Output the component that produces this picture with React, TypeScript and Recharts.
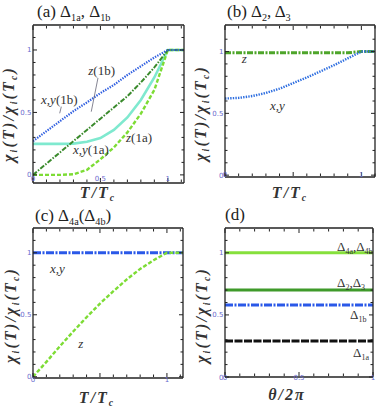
import React from 'react';
import { LineChart, Line, XAxis, YAxis, ReferenceDot, ReferenceLine } from 'recharts';

// (a) Delta_1a, Delta_1b
const tA = [0, 0.1, 0.2, 0.3, 0.4, 0.5, 0.6, 0.7, 0.8, 0.9, 1.0, 1.12];
const xy1b = [0.27, 0.35, 0.43, 0.51, 0.58, 0.655, 0.72, 0.8, 0.87, 0.94, 1, 1];
const z1b = [0, 0.09, 0.18, 0.27, 0.36, 0.45, 0.54, 0.63, 0.74, 0.86, 1, 1];
const xy1a = [0.248, 0.248, 0.248, 0.25, 0.265, 0.295, 0.36, 0.46, 0.6, 0.78, 1, 1];
const z1a = [0, 0, 0, 0.005, 0.04, 0.125, 0.22, 0.34, 0.49, 0.68, 1, 1];

// (b) Delta_2, Delta_3
const tB = [0, 0.1, 0.2, 0.3, 0.4, 0.5, 0.6, 0.7, 0.8, 0.9, 1.0, 1.1];
const xy23 = [0.62, 0.625, 0.64, 0.665, 0.7, 0.745, 0.79, 0.84, 0.89, 0.945, 1, 1];
const z23 = [0.99, 0.99, 0.99, 0.99, 0.99, 0.99, 0.99, 0.99, 0.99, 0.99, 1, 1];

// (c) Delta_4a (Delta_4b)
const tC = [0, 0.1, 0.2, 0.3, 0.4, 0.5, 0.6, 0.7, 0.8, 0.9, 1.0, 1.12];
const xy4 = [1, 1, 1, 1, 1, 1, 1, 1, 1, 1, 1, 1];
const z4 = [0, 0.12, 0.245, 0.365, 0.48, 0.59, 0.69, 0.785, 0.87, 0.94, 1, 1];

// (d) vs theta/2pi
const theta = [0, 0.25, 0.5, 0.75, 1];
const d4 = [1, 1, 1, 1, 1];
const d23 = [0.7, 0.7, 0.7, 0.7, 0.7];
const d1b = [0.58, 0.58, 0.58, 0.58, 0.58];
const d1a = [0.29, 0.29, 0.29, 0.29, 0.29];

const tenths = [0, 0.1, 0.2, 0.3, 0.4, 0.5, 0.6, 0.7, 0.8, 0.9, 1.0, 1.1];

const dataA = tA.map((t, i) => ({ t, xy1b: xy1b[i], z1b: z1b[i], xy1a: xy1a[i], z1a: z1a[i] }));
const dataB = tB.map((t, i) => ({ t, xy: xy23[i], z: z23[i] }));
const dataC = tC.map((t, i) => ({ t, xy: xy4[i], z: z4[i] }));
const dataD = theta.map((t, i) => ({ t, d4: d4[i], d23: d23[i], d1b: d1b[i], d1a: d1a[i] }));

const SERIF = '"Liberation Serif", "Times New Roman", "DejaVu Serif", serif';
const TICK = '#6a6acd';
const FRAME = '#222';

const near = (a: number, b: number) => Math.abs(a - b) < 1e-6;
const fmt = (v: number) => String(+v.toFixed(2));

type Side = 'bottom' | 'left' | 'top' | 'right';

function makeTick(side: Side, labels: number[], dy = 0) {
  return (p: any) => {
    const { x, y, payload } = p;
    const v = payload.value;
    const len = [0, 0.5, 1].some((m) => near(m, v)) ? 4 : 2.5;
    let line = null;
    if (side === 'bottom') line = <line x1={x} y1={y - 1} x2={x} y2={y - 1 - len} stroke={FRAME} />;
    if (side === 'top') line = <line x1={x} y1={y + 1} x2={x} y2={y + 1 + len} stroke={FRAME} />;
    if (side === 'left') line = <line x1={x} y1={y} x2={x + len} y2={y} stroke={FRAME} />;
    if (side === 'right') line = <line x1={x} y1={y} x2={x - len} y2={y} stroke={FRAME} />;
    let text = null;
    if (labels.some((m) => near(m, v))) {
      if (side === 'bottom')
        text = (
          <text x={x} y={y - 1 + dy} textAnchor="middle" fontSize={7} fill={TICK} fontFamily="DejaVu Sans">
            {fmt(v)}
          </text>
        );
      if (side === 'left')
        text = (
          <text x={x - 1.5} y={y + 2.5} textAnchor="end" fontSize={7} fill={TICK} fontFamily="DejaVu Sans">
            {fmt(v)}
          </text>
        );
    }
    return (
      <g>
        {line}
        {text}
      </g>
    );
  };
}

function frame(xDomain: number[], yDomain: number[], xTicks: number[], xLabels: number[], xDy: number) {
  const common = {
    tickLine: false,
    tickSize: 0,
    tickMargin: 0,
    interval: 0 as const,
    allowDataOverflow: true,
    axisLine: { stroke: FRAME, strokeWidth: 1.3 },
  };
  const yTicks = tenths;
  return [
    <XAxis key="xb" {...common} type="number" dataKey="t" domain={xDomain} ticks={xTicks} height={1} tick={makeTick('bottom', xLabels, xDy)} />,
    <XAxis key="xt" {...common} xAxisId="top" orientation="top" type="number" dataKey="t" domain={xDomain} ticks={xTicks} height={1} tick={makeTick('top', [])} />,
    <YAxis key="yl" {...common} type="number" domain={yDomain} ticks={yTicks} width={1} tick={makeTick('left', [0, 0.5, 1])} />,
    <YAxis key="yr" {...common} yAxisId="right" orientation="right" type="number" domain={yDomain} ticks={yTicks} width={1} tick={makeTick('right', [])} />,
  ];
}

const note = (content: React.ReactNode, size = 13) => (p: any) => (
  <text x={p.cx} y={p.cy} fontFamily={SERIF} fontSize={size} fill="#333">
    {content}
  </text>
);
const it = (s: string) => <tspan fontStyle="italic">{s}</tspan>;
const dSub = (s: string) => (
  <tspan dy={3} fontSize={8}>
    {s}
  </tspan>
);

const base: React.CSSProperties = { position: 'absolute', fontFamily: SERIF, color: '#222', lineHeight: 1, whiteSpace: 'nowrap' };
const subS: React.CSSProperties = { fontSize: '0.6em', verticalAlign: '-0.35em' };

const YLabel = ({ cx, cy }: { cx: number; cy: number }) => (
  <div
    style={{
      ...base,
      left: cx,
      top: cy,
      fontSize: 16,
      fontStyle: 'italic',
      fontWeight: 'bold',
      letterSpacing: 2.2,
      color: '#333',
      transform: 'translate(-50%, -50%) rotate(-90deg)',
    }}
  >
    χ<span style={subS}>i</span>(T)/χ<span style={subS}>i</span>(T<span style={subS}>c</span>)
  </div>
);

const XLabel = ({ cx, top, theta }: { cx: number; top: number; theta?: boolean }) => (
  <div
    style={{
      ...base,
      left: cx,
      top,
      fontSize: 16,
      fontStyle: 'italic',
      fontWeight: 'bold',
      letterSpacing: 2,
      color: '#333',
      transform: 'translateX(-50%)',
    }}
  >
    {theta ? (
      <>θ/2π</>
    ) : (
      <>
        T/T<span style={subS}>c</span>
      </>
    )}
  </div>
);

const Title = ({ left, top, children }: { left: number; top: number; children: React.ReactNode }) => (
  <div style={{ ...base, left, top, fontSize: 17 }}>{children}</div>
);

export default function App() {
  return (
    <div style={{ position: 'absolute', left: 0, top: 0, width: 381, height: 410, background: '#fff', overflow: 'hidden' }}>
      <div style={{ position: 'absolute', left: 0, top: 0 }}>
        <LineChart width={190} height={205} data={dataA} margin={{ top: 24, right: 5, bottom: 21, left: 32 }}>
          {frame([0, 1.12], [-0.065, 1.2], tenths, [0, 0.5, 1], -1)}
          <Line dataKey="xy1a" stroke="#7fe9cf" strokeWidth={2.6} dot={false} activeDot={false} isAnimationActive={false} />
          <Line dataKey="z1a" stroke="#7ddc35" strokeWidth={2.4} strokeDasharray="4 2" dot={false} activeDot={false} isAnimationActive={false} />
          <Line dataKey="z1b" stroke="#3a8a2c" strokeWidth={2} strokeDasharray="5 1.5 1.5 1.5" dot={false} activeDot={false} isAnimationActive={false} />
          <Line dataKey="xy1b" stroke="#2f5ee0" strokeWidth={2.2} strokeDasharray="1.4 1.2" dot={false} activeDot={false} isAnimationActive={false} />
          <ReferenceLine segment={[{ x: 0.482, y: 0.776 }, { x: 0.432, y: 0.506 }]} stroke="#667" strokeWidth={0.8} />
          <ReferenceLine segment={[{ x: 0.21, y: 0.546 }, { x: 0.198, y: 0.493 }]} stroke="#667" strokeWidth={0.8} />
          <ReferenceDot x={0.41} y={0.8} r={0} shape={note(<>{it('z')}(1b)</>)} />
          <ReferenceDot x={0.06} y={0.567} r={0} shape={note(<>{it('x,y')}(1b)</>)} />
          <ReferenceDot x={0.297} y={0.167} r={0} shape={note(<>{it('x,y')}(1a)</>)} />
          <ReferenceDot x={0.69} y={0.263} r={0} shape={note(<>{it('z')}(1a)</>)} />
        </LineChart>
      </div>
      <div style={{ position: 'absolute', left: 190, top: 0 }}>
        <LineChart width={191} height={205} data={dataB} margin={{ top: 24, right: 5, bottom: 27, left: 34 }}>
          {frame([0, 1.1], [-0.015, 1.215], tenths, [0, 1], 0.5)}
          <Line dataKey="z" stroke="#4ea52a" strokeWidth={3} strokeDasharray="6 1.5 2 1.5" dot={false} activeDot={false} isAnimationActive={false} />
          <Line dataKey="xy" stroke="#2f6fe0" strokeWidth={2.4} strokeDasharray="1.4 1.2" dot={false} activeDot={false} isAnimationActive={false} />
          <ReferenceDot x={0.122} y={0.907} r={0} shape={note(it('z'))} />
          <ReferenceDot x={0.33} y={0.526} r={0} shape={note(it('x,y'))} />
        </LineChart>
      </div>
      <div style={{ position: 'absolute', left: 0, top: 205 }}>
        <LineChart width={190} height={205} data={dataC} margin={{ top: 22, right: 6, bottom: 31, left: 32 }}>
          {frame([0, 1.12], [-0.01, 1.2], tenths, [0, 1], 4.5)}
          <Line dataKey="xy" stroke="#2a58e8" strokeWidth={3} strokeDasharray="8 1.5 2 1.5" dot={false} activeDot={false} isAnimationActive={false} />
          <Line dataKey="z" stroke="#7ddc35" strokeWidth={2.4} strokeDasharray="4 2" dot={false} activeDot={false} isAnimationActive={false} />
          <ReferenceDot x={0.127} y={0.837} r={0} shape={note(it('x,y'))} />
          <ReferenceDot x={0.338} y={0.232} r={0} shape={note(it('z'))} />
        </LineChart>
      </div>
      <div style={{ position: 'absolute', left: 190, top: 205 }}>
        <LineChart width={191} height={205} data={dataD} margin={{ top: 22, right: 7, bottom: 32, left: 34 }}>
          {frame([0, 1], [0, 1.2], tenths.slice(0, 11), [0, 0.5, 1], 4)}
          <Line dataKey="d4" stroke="#86e03c" strokeWidth={3} dot={false} activeDot={false} isAnimationActive={false} />
          <Line dataKey="d23" stroke="#3f9a2a" strokeWidth={3} dot={false} activeDot={false} isAnimationActive={false} />
          <Line dataKey="d1b" stroke="#2a58e8" strokeWidth={3} strokeDasharray="8 1.5 2 1.5" dot={false} activeDot={false} isAnimationActive={false} />
          <Line dataKey="d1a" stroke="#111" strokeWidth={3} strokeDasharray="8 1.5" dot={false} activeDot={false} isAnimationActive={false} />
          <ReferenceDot x={0.757} y={1.015} r={0} shape={note(<>Δ{dSub('4a')}<tspan dy={-3}>,Δ</tspan>{dSub('4b')}</>)} />
          <ReferenceDot x={0.757} y={0.725} r={0} shape={note(<>Δ{dSub('2')}<tspan dy={-3}>,Δ</tspan>{dSub('3')}</>)} />
          <ReferenceDot x={0.845} y={0.467} r={0} shape={note(<>Δ{dSub('1b')}</>)} />
          <ReferenceDot x={0.865} y={0.16} r={0} shape={note(<>Δ{dSub('1a')}</>)} />
        </LineChart>
      </div>

      <Title left={37} top={3}>
        (a) Δ<span style={subS}>1a</span>, Δ<span style={subS}>1b</span>
      </Title>
      <Title left={227} top={3}>
        (b) Δ<span style={subS}>2</span>, Δ<span style={subS}>3</span>
      </Title>
      <Title left={35} top={207}>
        (c) Δ<span style={subS}>4a</span>(Δ<span style={subS}>4b</span>)
      </Title>
      <Title left={225} top={206}>
        (d)
      </Title>

      <YLabel cx={10} cy={114} />
      <YLabel cx={202} cy={113} />
      <YLabel cx={12} cy={315} />
      <YLabel cx={203} cy={315} />

      <XLabel cx={98} top={185} />
      <XLabel cx={290} top={185} />
      <XLabel cx={97} top={390} />
      <XLabel cx={287} top={387} theta />
    </div>
  );
}
